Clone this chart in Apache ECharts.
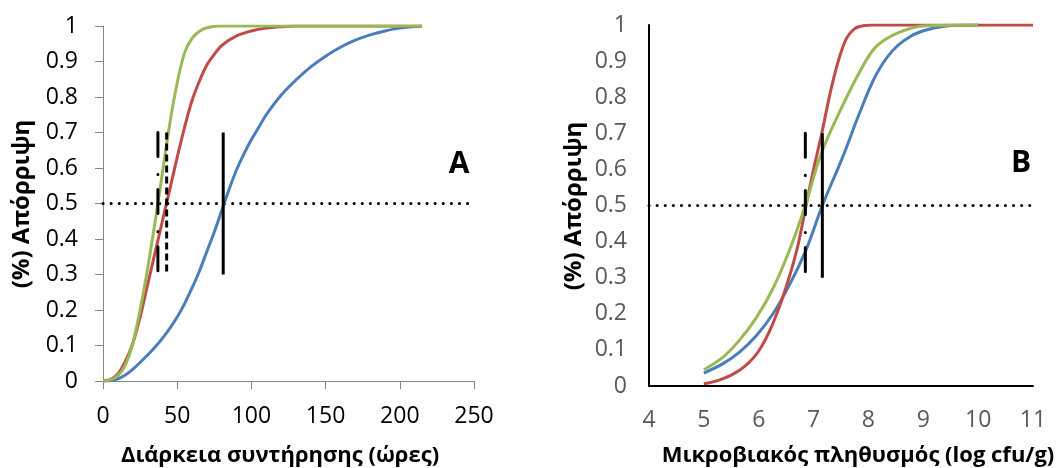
<!DOCTYPE html>
<html>
<head>
<meta charset="utf-8">
<script src="https://cdn.jsdelivr.net/npm/echarts@6/dist/echarts.min.js"></script>
<style>
  html, body { margin: 0; padding: 0; background: #ffffff; }
  #chart { width: 1060px; height: 468px; }
</style>
</head>
<body>
<div id="chart"></div>
<script>
// ---- Panel A: storage duration (hours) ----
const aXTicks = [0, 50, 100, 150, 200, 250];
const aBlue = [[0,0],[5,0.001],[10,0.006],[15,0.017],[20,0.033],[25,0.052],[30,0.073],[35,0.095],[40,0.12],[45,0.148],[50,0.18],[55,0.218],[60,0.262],[65,0.31],[70,0.365],[75,0.42],[80,0.48],[85,0.54],[90,0.595],[95,0.64],[100,0.68],[105,0.715],[110,0.75],[120,0.805],[130,0.848],[140,0.885],[150,0.915],[160,0.94],[170,0.96],[180,0.975],[190,0.986],[200,0.994],[215,1]];
const aRed = [[0,0],[5,0.004],[10,0.02],[15,0.055],[20,0.105],[25,0.18],[30,0.27],[35,0.36],[40,0.45],[45,0.54],[50,0.63],[55,0.715],[60,0.79],[65,0.845],[70,0.89],[75,0.92],[80,0.945],[90,0.972],[100,0.986],[110,0.994],[120,0.998],[130,1],[215,1]];
const aGreen = [[0,0],[5,0.003],[10,0.015],[15,0.045],[20,0.105],[25,0.2],[30,0.315],[35,0.445],[40,0.585],[45,0.725],[50,0.84],[55,0.925],[60,0.965],[65,0.985],[70,0.995],[78,1],[215,1]];
const aSolidX = 81, aDashedX = 42.9, aDashDotX = 37;
const aRefLine = [[0,0.5],[250,0.5]];

// ---- Panel B: microbial population (log cfu/g) ----
const bXTicks = [4, 5, 6, 7, 8, 9, 10, 11];
const bBlue = [[5,0.036],[5.35,0.062],[5.65,0.094],[5.96,0.14],[6.26,0.2],[6.56,0.28],[6.87,0.38],[7.16,0.5],[7.53,0.634],[7.84,0.757],[8.14,0.862],[8.44,0.929],[8.75,0.967],[9.05,0.986],[9.42,0.997],[10,1]];
const bGreen = [[5,0.045],[5.35,0.08],[5.65,0.127],[5.96,0.19],[6.26,0.27],[6.56,0.376],[6.85,0.5],[7.14,0.644],[7.53,0.777],[7.84,0.87],[8.14,0.94],[8.57,0.98],[9.05,0.998],[10,1]];
const bRed = [[5,0.006],[5.25,0.015],[5.5,0.03],[5.75,0.055],[6,0.097],[6.25,0.17],[6.5,0.274],[6.7,0.38],[6.85,0.49],[7,0.6],[7.15,0.7],[7.3,0.81],[7.45,0.9],[7.6,0.963],[7.75,0.99],[7.9,0.998],[8.1,1],[11,1]];
const bSolidX = 7.16, bDashDotX = 6.85;
const bRefLine = [[4,0.5],[11,0.5]];

const markRange = [0.7, 0.3];
const yTitle = '(%) Απόρριψη';
const aXTitle = 'Διάρκεια συντήρησης (ώρες)';
const bXTitle = 'Μικροβιακός πληθυσμός (log cfu/g)';

const FONT = '"Open Sans", "Noto Sans", sans-serif';
const C_BLUE = '#4A7EBB', C_RED = '#BE4B48', C_GREEN = '#98B954';

function curve(data, color, xi) {
  return { type: 'line', xAxisIndex: xi, yAxisIndex: xi, data: data, smooth: 0.35,
    showSymbol: false, symbol: 'none', lineStyle: { color: color, width: 3 }, z: 3, silent: true };
}
function vline(x, type, xi, cap) {
  return { type: 'line', xAxisIndex: xi, yAxisIndex: xi, data: [[x, markRange[0]], [x, markRange[1]]],
    symbol: 'none', lineStyle: { color: '#000', width: 3, type: type, cap: cap || 'butt' }, z: 4, silent: true };
}
function dotted(data, xi) {
  return { type: 'line', xAxisIndex: xi, yAxisIndex: xi, data: data, symbol: 'none',
    lineStyle: { color: '#000', width: 3, type: [0.1, 8], cap: 'round' }, z: 2, silent: true };
}

const chart = echarts.init(document.getElementById('chart'), null, { renderer: 'canvas' });
chart.setOption({
  animation: false,
  backgroundColor: '#fff',
  textStyle: { fontFamily: FONT },
  grid: [
    { left: 103, top: 26, width: 371, height: 355 },
    { left: 649, top: 25, width: 384, height: 361 }
  ],
  xAxis: [
    { type: 'value', gridIndex: 0, min: aXTicks[0], max: aXTicks[aXTicks.length-1], interval: 50,
      axisLine: { show: true, onZero: false, lineStyle: { color: '#868686', width: 1 } },
      axisTick: { show: true, length: 8, lineStyle: { color: '#868686' } },
      splitLine: { show: false },
      axisLabel: { color: '#000', fontSize: 23, fontFamily: FONT, margin: 24 } },
    { type: 'value', gridIndex: 1, min: bXTicks[0], max: bXTicks[bXTicks.length-1], interval: 1,
      axisLine: { show: true, onZero: false, lineStyle: { color: '#000', width: 2 } },
      axisTick: { show: false },
      splitLine: { show: false },
      axisLabel: { color: '#595959', fontSize: 23, fontFamily: FONT, margin: 23 } }
  ],
  yAxis: [
    { type: 'value', gridIndex: 0, min: 0, max: 1, interval: 0.1,
      axisLine: { show: true, onZero: false, lineStyle: { color: '#868686', width: 1 } },
      axisTick: { show: true, length: 8, lineStyle: { color: '#868686' } },
      splitLine: { show: false },
      axisLabel: { color: '#000', fontSize: 23, fontFamily: FONT, margin: 25 } },
    { type: 'value', gridIndex: 1, min: 0, max: 1, interval: 0.1,
      axisLine: { show: true, onZero: false, lineStyle: { color: '#000', width: 2 } },
      axisTick: { show: false },
      splitLine: { show: false },
      axisLabel: { color: '#595959', fontSize: 23, fontFamily: FONT, margin: 22 } }
  ],
  series: [
    dotted(aRefLine, 0),
    curve(aBlue, C_BLUE, 0),
    curve(aRed, C_RED, 0),
    curve(aGreen, C_GREEN, 0),
    vline(aSolidX, 'solid', 0),
    vline(aDashedX, [7, 4], 0),
    vline(aDashDotX, [24, 18, 0.1, 15], 0, 'round'),
    dotted(bRefLine, 1),
    curve(bBlue, C_BLUE, 1),
    curve(bRed, C_RED, 1),
    curve(bGreen, C_GREEN, 1),
    vline(bSolidX, 'solid', 1),
    vline(bDashDotX, [24, 18, 0.1, 15], 1, 'round')
  ],
  graphic: [
    { type: 'text', x: 280, y: 456, style: { text: aXTitle, font: 'bold 22px ' + FONT, fill: '#000', textAlign: 'center', textVerticalAlign: 'middle' } },
    { type: 'text', x: 858, y: 456, style: { text: bXTitle, font: 'bold 22px ' + FONT, fill: '#000', textAlign: 'center', textVerticalAlign: 'middle' } },
    { type: 'text', x: 22, y: 204, rotation: Math.PI / 2, style: { text: yTitle, font: 'bold 24px ' + FONT, fill: '#000', textAlign: 'center', textVerticalAlign: 'middle' } },
    { type: 'text', x: 574, y: 206, rotation: Math.PI / 2, style: { text: yTitle, font: 'bold 24px ' + FONT, fill: '#000', textAlign: 'center', textVerticalAlign: 'middle' } },
    { type: 'text', x: 459, y: 164, style: { text: 'A', font: 'bold 30px ' + FONT, fill: '#000', textAlign: 'center', textVerticalAlign: 'middle' } },
    { type: 'text', x: 1021, y: 163, style: { text: 'B', font: 'bold 30px ' + FONT, fill: '#000', textAlign: 'center', textVerticalAlign: 'middle' } }
  ]
});
</script>
</body>
</html>
